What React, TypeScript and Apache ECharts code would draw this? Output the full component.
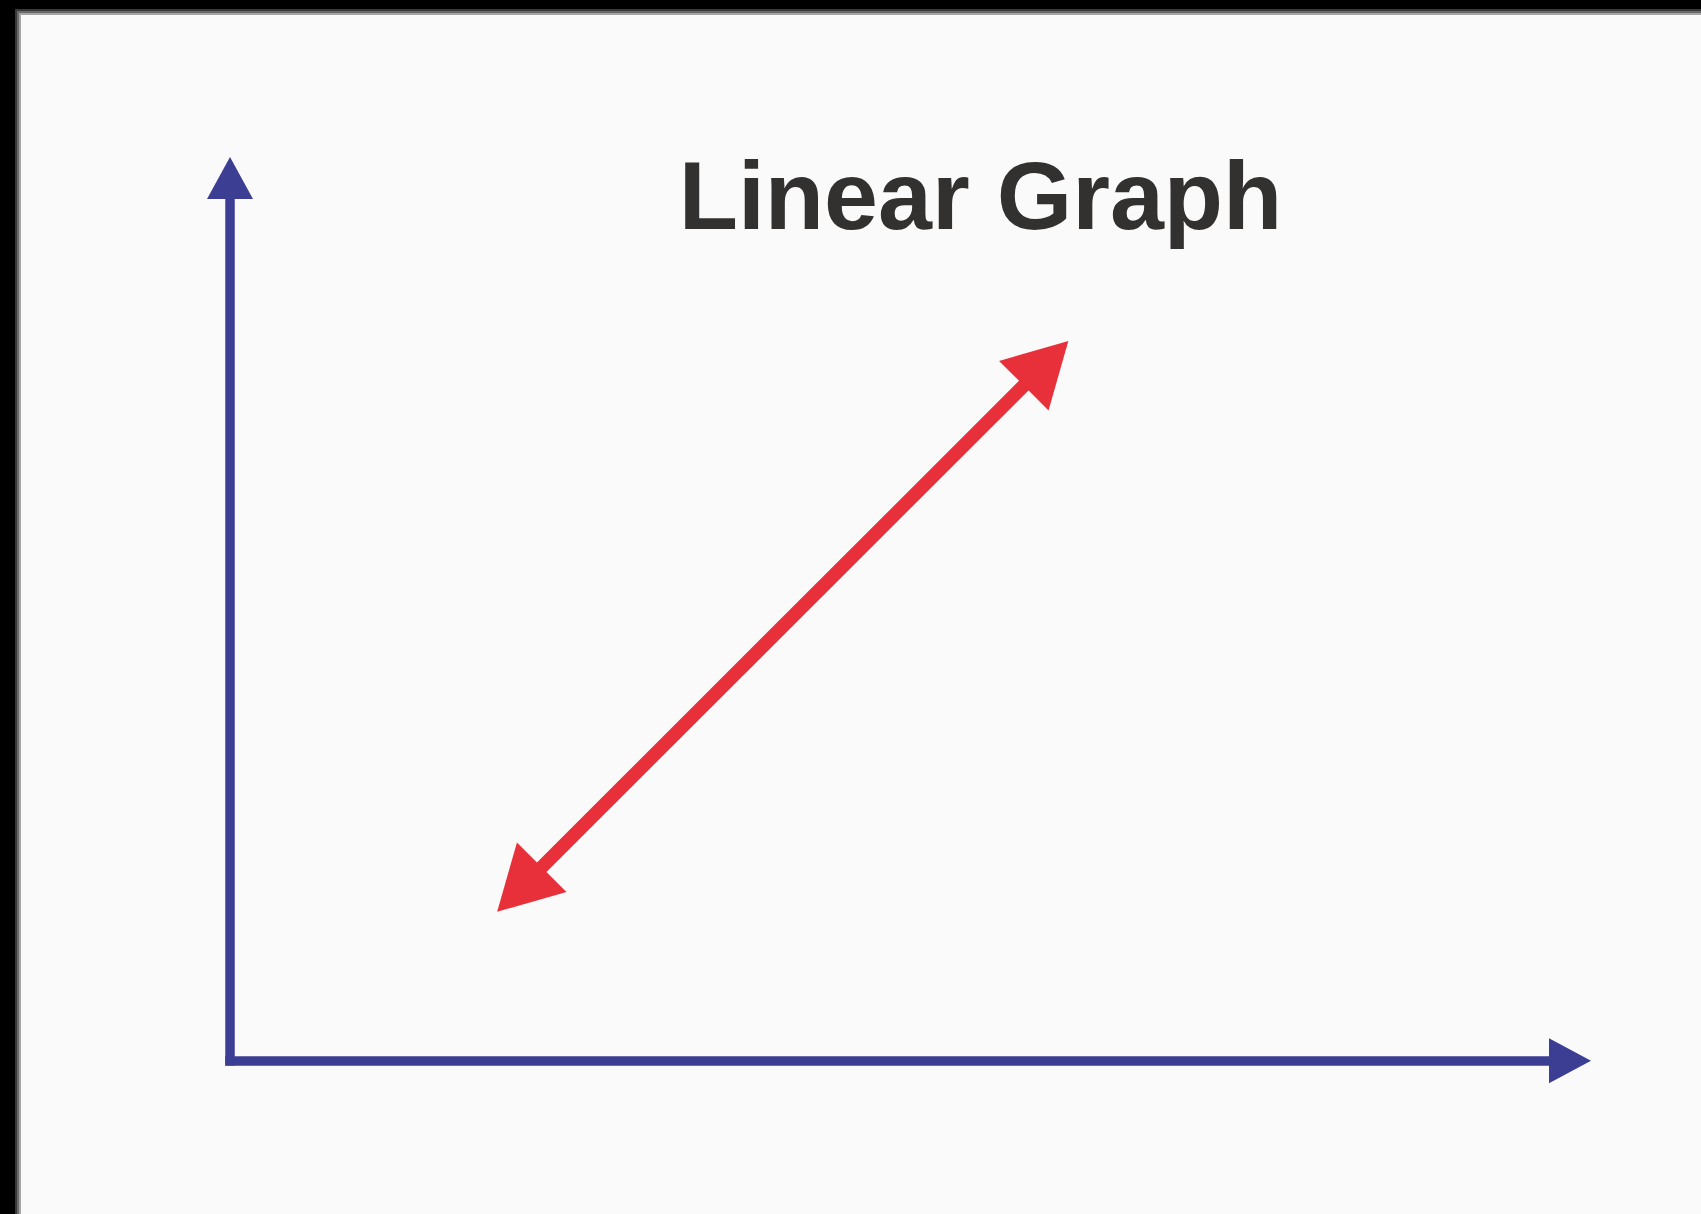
import React, { useEffect, useRef } from "react";
import * as echarts from "echarts";

// ---- data ----
const titleText = "Linear Graph";
const xRange = [0, 10];
const yRange = [0, 10];
// endpoints of the red double-headed line (data units)
const lineStart = [2.16, 1.94];
const lineEnd = [6.09, 7.9];
// arrowhead directions (degrees, counter-clockwise from "up")
const headRotations = [135, -45];

const AXIS_BLUE = "#3b3e93";
const LINE_RED = "#e8303a";

export default function App() {
  const ref = useRef<HTMLDivElement>(null);

  useEffect(() => {
    const chart = echarts.init(ref.current as HTMLDivElement, null, { renderer: "svg" });
    const axisCommon = {
      type: "value",
      axisTick: { show: false },
      axisLabel: { show: false },
      splitLine: { show: false },
    };
    chart.setOption({
      animation: false,
      backgroundColor: "#000000",
      grid: { left: 230, right: 131, top: 178, bottom: 153.3, containLabel: false },
      xAxis: {
        ...axisCommon,
        min: xRange[0],
        max: xRange[1],
        axisLine: {
          show: true,
          onZero: false,
          symbol: ["none", "triangle"],
          symbolSize: [45, 42],
          lineStyle: { color: AXIS_BLUE, width: 9.5, cap: "square" },
        },
      },
      yAxis: {
        ...axisCommon,
        min: yRange[0],
        max: yRange[1],
        axisLine: {
          show: true,
          onZero: false,
          symbol: ["none", "triangle"],
          symbolSize: [46, 42],
          lineStyle: { color: AXIS_BLUE, width: 9.5, cap: "square" },
        },
      },
      graphic: {
        elements: [
          { type: "rect", z: -100, silent: true, shape: { x: 15, y: 9, width: 1701, height: 1214 }, style: { fill: "#3a3a3a" } },
          { type: "rect", z: -99, silent: true, shape: { x: 17, y: 11, width: 1701, height: 1214 }, style: { fill: "#6a6a6a" } },
          { type: "rect", z: -98, silent: true, shape: { x: 19, y: 13, width: 1701, height: 1214 }, style: { fill: "#a5a5a5" } },
          { type: "rect", z: -97, silent: true, shape: { x: 21, y: 15, width: 1701, height: 1214 }, style: { fill: "#fafafa" } },
          {
            type: "text",
            z: 100,
            x: 980.5,
            y: 195.5,
            style: {
              text: titleText,
              x: 0,
              y: 0,
              align: "center",
              verticalAlign: "middle",
              fill: "#333030",
              font: 'bold 97px "Liberation Sans", Arial, Helvetica, sans-serif',
            },
          },
        ],
      },
      series: [
        {
          type: "line",
          name: "Linear",
          data: [lineStart, lineEnd],
          symbol: "none",
          silent: true,
          lineStyle: { color: LINE_RED, width: 13.5, cap: "butt" },
          z: 3,
        },
        {
          type: "scatter",
          name: "Heads",
          silent: true,
          symbol: "triangle",
          symbolSize: [70, 63],
          itemStyle: { color: LINE_RED, opacity: 1 },
          data: [
            { value: lineStart, symbolRotate: headRotations[0] },
            { value: lineEnd, symbolRotate: headRotations[1] },
          ],
          z: 4,
        },
      ],
    });
    return () => chart.dispose();
  }, []);

  return (
    <div
      ref={ref}
      style={{ position: "fixed", left: 0, top: 0, width: 1701, height: 1214 }}
    />
  );
}
